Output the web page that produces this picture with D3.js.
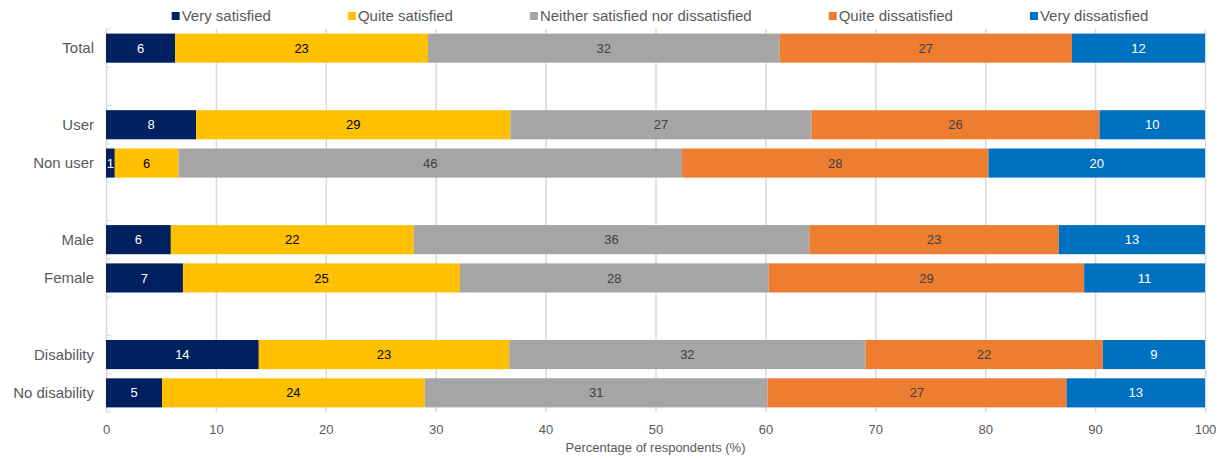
<!DOCTYPE html>
<html>
<head>
<meta charset="utf-8">
<script src="https://cdn.jsdelivr.net/npm/d3@7"></script>
<style>
  body { margin: 0; background: #fff; }
  text { font-family: "Liberation Sans", Arial, sans-serif; }
</style>
</head>
<body>
<svg id="svg1" width="1223" height="459"></svg>
<script>
// rows, top to bottom (gapN = empty spacer slot)
var rows = ["Total", "gap1", "User", "Non user", "gap2", "Male", "Female", "gap3", "Disability", "No disability"];
var categories = ["Total", "User", "Non user", "Male", "Female", "Disability", "No disability"];
var seriesNames = ["Very satisfied", "Quite satisfied", "Neither satisfied nor dissatisfied", "Quite dissatisfied", "Very dissatisfied"];
var verySatisfied    = [6.3, 8.2, 0.8, 5.9, 7.0, 13.9, 5.1];
var quiteSatisfied   = [23.0, 28.6, 5.8, 22.1, 25.2, 22.8, 23.9];
var neither          = [32.0, 27.4, 45.8, 36.0, 28.1, 32.4, 31.2];
var quiteDissatisfied = [26.6, 26.2, 27.9, 22.7, 28.7, 21.6, 27.2];
var veryDissatisfied = [12.1, 9.6, 19.7, 13.3, 11.0, 9.3, 12.6];
var xTicks = [0, 10, 20, 30, 40, 50, 60, 70, 80, 90, 100];

var colors = ["#002060", "#FFC000", "#A5A5A5", "#ED7D31", "#0070C0"];
var labelColors = ["#ffffff", "#000000", "#404040", "#404040", "#ffffff"];

var svg = d3.select("#svg1"),
  margin = {top: 29, right: 18, bottom: 47, left: 106},
  width = +svg.attr("width") - margin.left - margin.right,
  height = +svg.attr("height") - margin.top - margin.bottom,
  g = svg.append("g").attr("transform", "translate(" + margin.left + "," + margin.top + ")");

var seriesValues = [verySatisfied, quiteSatisfied, neither, quiteDissatisfied, veryDissatisfied];
var data = categories.map(function(c, i) {
  var d = {cat: c};
  seriesNames.forEach(function(s, j) { d[s] = seriesValues[j][i]; });
  return d;
});
var stack = d3.stack().keys(seriesNames)(data);

var x = d3.scaleLinear().domain([0, 100]).range([0, width]);
var y = d3.scaleBand().domain(rows).range([0, height]).paddingInner(0.24).paddingOuter(0.12);
var step = y.step();

// gridlines
g.append("g").selectAll("line")
  .data(xTicks)
  .enter().append("line")
  .attr("x1", function(d) { return x(d) + 0.5; })
  .attr("x2", function(d) { return x(d) + 0.5; })
  .attr("y1", 0)
  .attr("y2", height)
  .attr("stroke", "#d9d9d9")
  .attr("stroke-width", 1.5);

// category axis ticks at slot boundaries
g.append("g").selectAll("line")
  .data(d3.range(rows.length + 1))
  .enter().append("line")
  .attr("x1", 0).attr("x2", 5)
  .attr("y1", function(i) { return Math.min(i * step, height); })
  .attr("y2", function(i) { return Math.min(i * step, height); })
  .attr("stroke", "#d9d9d9")
  .attr("stroke-width", 1);

// bars
var layer = g.append("g").selectAll("g")
  .data(stack)
  .enter().append("g")
  .attr("fill", function(d, i) { return colors[i]; });

layer.selectAll("rect")
  .data(function(d) { return d; })
  .enter().append("rect")
  .attr("x", function(d) { return x(d[0]); })
  .attr("y", function(d) { return y(d.data.cat); })
  .attr("width", function(d) { return x(d[1]) - x(d[0]); })
  .attr("height", y.bandwidth());

// value labels
var labels = g.append("g").selectAll("g")
  .data(stack)
  .enter().append("g")
  .attr("fill", function(d, i) { return labelColors[i]; });

labels.selectAll("text")
  .data(function(d) { return d; })
  .enter().append("text")
  .attr("x", function(d) { return (x(d[0]) + x(d[1])) / 2; })
  .attr("y", function(d) { return y(d.data.cat) + y.bandwidth() / 2; })
  .attr("dy", "0.35em")
  .attr("text-anchor", "middle")
  .attr("font-size", 13)
  .text(function(d) { return Math.round(d[1] - d[0]); });

// category labels
g.append("g").selectAll("text")
  .data(categories)
  .enter().append("text")
  .attr("x", -12)
  .attr("y", function(d) { return y(d) + y.bandwidth() / 2; })
  .attr("dy", "0.35em")
  .attr("text-anchor", "end")
  .attr("font-size", 15)
  .attr("fill", "#595959")
  .text(function(d) { return d; });

// x axis
var xAxis = g.append("g")
  .attr("transform", "translate(0," + height + ")")
  .call(d3.axisBottom(x).tickValues(xTicks).tickSize(0).tickPadding(13));
xAxis.select(".domain").remove();
xAxis.selectAll("text")
  .attr("font-family", "Liberation Sans, Arial, sans-serif")
  .attr("font-size", 13)
  .attr("fill", "#595959");

g.append("text")
  .attr("x", width / 2)
  .attr("y", height + 40)
  .attr("text-anchor", "middle")
  .attr("font-size", 13)
  .attr("fill", "#595959")
  .text("Percentage of respondents (%)");

// legend
var legend = svg.append("g");
var items = legend.selectAll("g")
  .data(seriesNames)
  .enter().append("g");
items.append("rect")
  .attr("width", 8).attr("height", 8)
  .attr("y", 12)
  .attr("fill", function(d, i) { return colors[i]; });
items.append("text")
  .attr("x", 10)
  .attr("y", 16)
  .attr("dy", "0.35em")
  .attr("font-size", 15)
  .attr("fill", "#595959")
  .text(function(d) { return d; });
var pos = 0;
items.each(function() {
  d3.select(this).attr("transform", "translate(" + pos + ",0)");
  pos += 10 + this.querySelector("text").getComputedTextLength() + 77;
});
var legendWidth = pos - 77;
legend.attr("transform", "translate(" + (660 - legendWidth / 2) + ",0)");
</script>
</body>
</html>
